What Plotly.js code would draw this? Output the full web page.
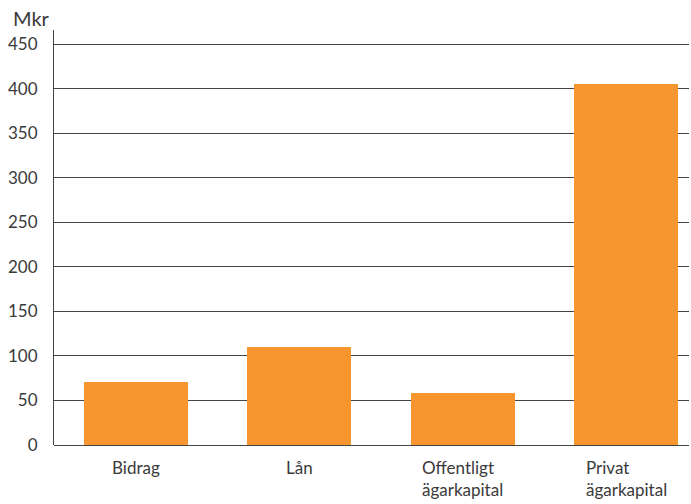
<!DOCTYPE html>
<html>
<head>
<meta charset="utf-8">
<script src="https://cdn.plot.ly/plotly-3.0.1.min.js"></script>
<style>html,body{margin:0;padding:0;background:#fff;}#chart{width:691px;height:504px;}</style>
</head>
<body>
<div id="chart"></div>
<script>
const categories = ["Bidrag", "Lån", "Offentligt", "Privat"];
const labels = ["Bidrag", "Lån", "Offentligt<br>ägarkapital", "Privat<br>ägarkapital"];
const values = [71, 110, 58, 405];
const yTicks = [0, 50, 100, 150, 200, 250, 300, 350, 400, 450];
const yTickText = ["0", "50", "100", "150", "200", "250", "300", "350", "400", "450"];
const unitLabel = "Mkr";

const fontFam = "Lato, 'Open Sans', sans-serif";
const textColor = "#3a3a3a";

const trace = {
  type: "bar",
  x: categories,
  y: values,
  marker: {color: "#f7962f", line: {width: 0}},
  width: 0.636,
  hoverinfo: "skip"
};

const annotations = labels.map((t, i) => ({
  text: t, x: categories[i], xref: "x", y: 0, yref: "paper",
  yanchor: "top", xanchor: "center", align: "left", yshift: -10,
  showarrow: false, font: {family: fontFam, size: 17, color: textColor}
}));
annotations.push({
  text: unitLabel, x: 0, xref: "paper", xanchor: "right", xshift: -2,
  y: 1, yref: "paper", yanchor: "bottom", yshift: -2, showarrow: false,
  font: {family: fontFam, size: 20, color: textColor}
});

const layout = {
  width: 691, height: 504,
  margin: {l: 54, r: 2, t: 30, b: 59},
  paper_bgcolor: "#fff", plot_bgcolor: "#fff",
  showlegend: false,
  bargap: 0,
  font: {family: fontFam, color: textColor},
  xaxis: {
    type: "category",
    range: [-0.5, 3.384],
    showticklabels: false,
    showgrid: false, zeroline: false, showline: false, ticks: ""
  },
  yaxis: {
    range: [0, 466],
    tickvals: yTicks, ticktext: yTickText,
    showgrid: true, gridcolor: "#444", gridwidth: 1,
    zeroline: true, zerolinecolor: "#444", zerolinewidth: 1,
    showline: true, linecolor: "#444", linewidth: 1,
    ticks: "", ticklabelstandoff: 12,
    tickfont: {family: fontFam, size: 17, color: textColor}
  },
  annotations: annotations
};

Plotly.newPlot("chart", [trace], layout, {displayModeBar: false, staticPlot: true});
</script>
</body>
</html>
